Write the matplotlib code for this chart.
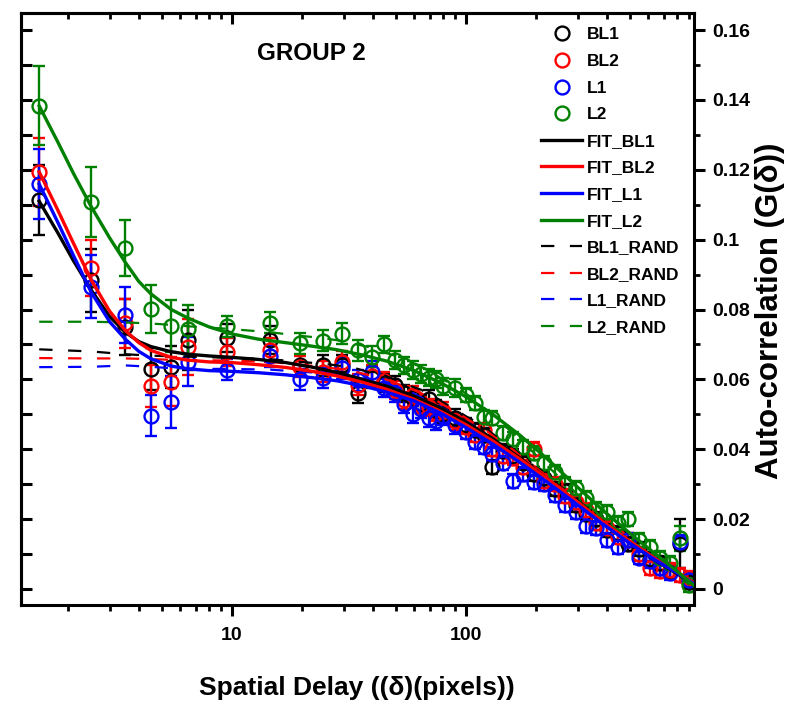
import matplotlib
matplotlib.use("Agg")
import matplotlib.pyplot as plt
from matplotlib.lines import Line2D
from matplotlib.ticker import FixedLocator, NullFormatter, FuncFormatter

plt.rcParams['font.family'] = ['Liberation Sans', 'DejaVu Sans']
plt.rcParams['font.weight'] = 'bold'

# spatial delay (pixels) of the measured points
delay = [1.5, 2.5, 3.5, 4.5, 5.5, 6.5, 9.5, 14.5, 19.5, 24.5, 29.5, 34.5, 39.5, 44.5,
         49.5, 54.5, 59.5, 64.5, 69.5, 74.5, 79.5, 89.5, 99.5, 109.5, 119.5, 129.5,
         144.5, 159.5, 174.5, 194.5, 214.5, 239.5, 264.5, 294.5, 324.5, 359.5, 399.5,
         444.5, 494.5, 549.5, 609.5, 674.5, 744.5, 819.5, 899.5]

bl1 = [0.1113, 0.0884, 0.0750, 0.0630, 0.0635, 0.0713, 0.0718, 0.0713, 0.0640, 0.0641,
       0.0640, 0.0562, 0.0605, 0.0590, 0.0585, 0.0560, 0.0548, 0.0530, 0.0545, 0.0515,
       0.0500, 0.0490, 0.0470, 0.0455, 0.0440, 0.0350, 0.0395, 0.0380, 0.0362, 0.0330,
       0.0318, 0.0285, 0.0280, 0.0240, 0.0215, 0.0200, 0.0170, 0.0160, 0.0130, 0.0115,
       0.0085, 0.0075, 0.0050, 0.0130, 0.0020]
bl2 = [0.1194, 0.0919, 0.0760, 0.0581, 0.0593, 0.0693, 0.0678, 0.0684, 0.0636, 0.0622,
       0.0651, 0.0584, 0.0610, 0.0595, 0.0570, 0.0540, 0.0555, 0.0525, 0.0520, 0.0505,
       0.0510, 0.0480, 0.0465, 0.0440, 0.0455, 0.0400, 0.0380, 0.0375, 0.0350, 0.0400,
       0.0310, 0.0300, 0.0265, 0.0250, 0.0225, 0.0190, 0.0175, 0.0150, 0.0140, 0.0100,
       0.0060, 0.0050, 0.0055, 0.0040, 0.0030]
l1 = [0.1159, 0.0865, 0.0784, 0.0496, 0.0536, 0.0651, 0.0627, 0.0666, 0.0601, 0.0604,
      0.0632, 0.0598, 0.0622, 0.0575, 0.0560, 0.0530, 0.0500, 0.0515, 0.0490, 0.0480,
      0.0495, 0.0470, 0.0450, 0.0420, 0.0405, 0.0385, 0.0360, 0.0310, 0.0330, 0.0305,
      0.0300, 0.0270, 0.0240, 0.0220, 0.0180, 0.0175, 0.0140, 0.0120, 0.0140, 0.0090,
      0.0080, 0.0060, 0.0045, 0.0135, 0.0025]
l2 = [0.1383, 0.1108, 0.0975, 0.0801, 0.0753, 0.0744, 0.0752, 0.0762, 0.0704, 0.0711,
      0.0730, 0.0684, 0.0665, 0.0700, 0.0655, 0.0640, 0.0627, 0.0615, 0.0605, 0.0600,
      0.0580, 0.0575, 0.0555, 0.0532, 0.0493, 0.0490, 0.0446, 0.0430, 0.0405, 0.0390,
      0.0360, 0.0335, 0.0300, 0.0290, 0.0260, 0.0230, 0.0220, 0.0190, 0.0200, 0.0140,
      0.0120, 0.0090, 0.0075, 0.0145, 0.0010]

bl1_err = [0.0100, 0.0090, 0.0080, 0.0060, 0.0060, 0.0085, 0.0040, 0.0040, 0.0030, 0.0030,
           0.0030, 0.0030, 0.0030, 0.0025, 0.0025, 0.0025, 0.0025, 0.0025, 0.0025, 0.0025,
           0.0025, 0.0025, 0.0020, 0.0020, 0.0020, 0.0020, 0.0020, 0.0020, 0.0020, 0.0020,
           0.0020, 0.0020, 0.0020, 0.0020, 0.0020, 0.0020, 0.0020, 0.0020, 0.0020, 0.0020,
           0.0020, 0.0020, 0.0020, 0.0070, 0.0020]
bl2_err = [0.0098, 0.0080, 0.0070, 0.0060, 0.0070, 0.0080, 0.0040, 0.0035, 0.0030, 0.0030,
           0.0030, 0.0030, 0.0030, 0.0025, 0.0025, 0.0025, 0.0025, 0.0025, 0.0025, 0.0025,
           0.0025, 0.0025, 0.0020, 0.0020, 0.0020, 0.0020, 0.0020, 0.0020, 0.0020, 0.0020,
           0.0020, 0.0020, 0.0020, 0.0020, 0.0020, 0.0020, 0.0020, 0.0020, 0.0020, 0.0020,
           0.0020, 0.0020, 0.0020, 0.0020, 0.0020]
l1_err = [0.0100, 0.0090, 0.0080, 0.0058, 0.0074, 0.0070, 0.0030, 0.0030, 0.0030, 0.0030,
          0.0030, 0.0030, 0.0030, 0.0025, 0.0025, 0.0025, 0.0025, 0.0025, 0.0025, 0.0025,
          0.0025, 0.0025, 0.0020, 0.0020, 0.0020, 0.0020, 0.0020, 0.0020, 0.0020, 0.0020,
          0.0020, 0.0020, 0.0020, 0.0020, 0.0020, 0.0020, 0.0020, 0.0020, 0.0020, 0.0020,
          0.0020, 0.0020, 0.0020, 0.0020, 0.0020]
l2_err = [0.0113, 0.0100, 0.0080, 0.0068, 0.0075, 0.0070, 0.0030, 0.0030, 0.0030, 0.0030,
          0.0030, 0.0030, 0.0030, 0.0025, 0.0025, 0.0025, 0.0025, 0.0025, 0.0025, 0.0025,
          0.0025, 0.0025, 0.0020, 0.0020, 0.0020, 0.0020, 0.0020, 0.0020, 0.0020, 0.0020,
          0.0020, 0.0020, 0.0020, 0.0020, 0.0020, 0.0020, 0.0020, 0.0020, 0.0020, 0.0020,
          0.0020, 0.0020, 0.0020, 0.0035, 0.0020]

# randomised (shuffled) references, same delays
bl1_rand = [0.0686, 0.0680, 0.0672, 0.0668, 0.0666, 0.0665, 0.0662, 0.0658, 0.0650, 0.0645,
            0.0638, 0.0630, 0.0618, 0.0612, 0.0600, 0.0590, 0.0578, 0.0570, 0.0555, 0.0548,
            0.0535, 0.0515, 0.0495, 0.0480, 0.0462, 0.0445, 0.0420, 0.0400, 0.0380, 0.0352,
            0.0335, 0.0305, 0.0285, 0.0258, 0.0235, 0.0210, 0.0185, 0.0165, 0.0140, 0.0118,
            0.0095, 0.0078, 0.0060, 0.0045, 0.0025]
bl2_rand = [0.0661, 0.0660, 0.0660, 0.0658, 0.0656, 0.0655, 0.0654, 0.0650, 0.0642, 0.0636,
            0.0628, 0.0620, 0.0610, 0.0602, 0.0592, 0.0580, 0.0570, 0.0560, 0.0548, 0.0540,
            0.0528, 0.0508, 0.0490, 0.0472, 0.0458, 0.0440, 0.0415, 0.0398, 0.0375, 0.0352,
            0.0330, 0.0302, 0.0282, 0.0255, 0.0232, 0.0205, 0.0182, 0.0160, 0.0138, 0.0112,
            0.0090, 0.0072, 0.0058, 0.0042, 0.0028]
l1_rand = [0.0635, 0.0636, 0.0640, 0.0636, 0.0632, 0.0630, 0.0630, 0.0628, 0.0622, 0.0618,
           0.0612, 0.0605, 0.0598, 0.0590, 0.0580, 0.0570, 0.0560, 0.0548, 0.0538, 0.0530,
           0.0518, 0.0498, 0.0480, 0.0465, 0.0448, 0.0430, 0.0408, 0.0388, 0.0368, 0.0342,
           0.0322, 0.0295, 0.0272, 0.0248, 0.0225, 0.0200, 0.0178, 0.0155, 0.0132, 0.0110,
           0.0088, 0.0070, 0.0055, 0.0040, 0.0022]
l2_rand = [0.0765, 0.0765, 0.0763, 0.0760, 0.0756, 0.0752, 0.0745, 0.0735, 0.0725, 0.0718,
           0.0710, 0.0700, 0.0690, 0.0678, 0.0668, 0.0655, 0.0645, 0.0635, 0.0622, 0.0612,
           0.0600, 0.0582, 0.0560, 0.0540, 0.0518, 0.0498, 0.0470, 0.0445, 0.0420, 0.0390,
           0.0362, 0.0332, 0.0305, 0.0275, 0.0248, 0.0220, 0.0192, 0.0168, 0.0145, 0.0120,
           0.0095, 0.0075, 0.0055, 0.0035, 0.0012]

# fitted curves
fit_delay = [1.5, 1.8, 2.1, 2.5, 3.0, 3.5, 4.0, 4.5, 5.5, 6.5, 8, 10, 13, 17, 22, 28, 36,
             46, 60, 78, 100, 130, 170, 220, 290, 380, 500, 650, 800, 940]
fit_bl1 = [0.1110, 0.1020, 0.0940, 0.0856, 0.0780, 0.0735, 0.0708, 0.0694, 0.0679, 0.0672,
           0.0667, 0.0663, 0.0657, 0.0648, 0.0635, 0.0620, 0.0600, 0.0580, 0.0552, 0.0518,
           0.0478, 0.0430, 0.0375, 0.0318, 0.0255, 0.0192, 0.0133, 0.0080, 0.0043, 0.0015]
fit_bl2 = [0.1194, 0.1085, 0.0990, 0.0885, 0.0795, 0.0740, 0.0705, 0.0683, 0.0663, 0.0655,
           0.0650, 0.0648, 0.0642, 0.0634, 0.0623, 0.0610, 0.0592, 0.0571, 0.0543, 0.0508,
           0.0470, 0.0424, 0.0372, 0.0318, 0.0256, 0.0195, 0.0137, 0.0085, 0.0048, 0.0018]
fit_l1 = [0.1159, 0.1050, 0.0955, 0.0850, 0.0765, 0.0715, 0.0680, 0.0659, 0.0638, 0.0630,
          0.0625, 0.0623, 0.0619, 0.0613, 0.0605, 0.0596, 0.0582, 0.0563, 0.0538, 0.0503,
          0.0462, 0.0415, 0.0362, 0.0308, 0.0248, 0.0188, 0.0131, 0.0081, 0.0045, 0.0015]
fit_l2 = [0.1383, 0.1280, 0.1190, 0.1095, 0.1005, 0.0935, 0.0880, 0.0845, 0.0800, 0.0775,
          0.0750, 0.0730, 0.0715, 0.0705, 0.0695, 0.0685, 0.0670, 0.0652, 0.0625, 0.0590,
          0.0550, 0.0500, 0.0440, 0.0375, 0.0300, 0.0228, 0.0160, 0.0098, 0.0050, 0.0010]

names = ['BL1', 'BL2', 'L1', 'L2']
colors = ['black', '#ff0000', '#0000ff', '#008000']
data = [bl1, bl2, l1, l2]
errs = [bl1_err, bl2_err, l1_err, l2_err]
rands = [bl1_rand, bl2_rand, l1_rand, l2_rand]
fits = [fit_bl1, fit_bl2, fit_l1, fit_l2]

y_ticks = [0, 0.02, 0.04, 0.06, 0.08, 0.1, 0.12, 0.14, 0.16]

fig = plt.figure(figsize=(7.93, 7.04), dpi=100)
ax = fig.add_axes([21 / 793, 1 - 605 / 704, 673 / 793, 592 / 704])

for y, e, c in zip(data, errs, colors):
    ax.errorbar(delay, y, yerr=e, fmt='o', mfc='none', mec=c, ecolor=c, ms=10,
                mew=1.7, elinewidth=1.7, capsize=4, capthick=1.7, zorder=2)
for r, c in zip(rands, colors):
    ax.plot(delay, r, color=c, lw=1.6, ls=(0, (6, 7)), zorder=3)
for f, c in zip(fits, colors):
    ax.plot(fit_delay, f, color=c, lw=2.4, zorder=4)

ax.set_xscale('log')
ax.set_xlim(1.254, 942)
ax.set_ylim(-0.0046, 0.1649)

for s in ax.spines.values():
    s.set_linewidth(2.2)

# bottom / right: outward ticks with labels
ax.xaxis.set_major_locator(FixedLocator([10, 100]))
ax.xaxis.set_minor_locator(FixedLocator([m * d for d in (1, 10, 100) for m in range(2, 10)]))
ax.xaxis.set_minor_formatter(NullFormatter())
ax.set_xticklabels(['10', '100'])
ax.yaxis.tick_right()
ax.yaxis.set_major_locator(FixedLocator(y_ticks))
ax.yaxis.set_minor_locator(FixedLocator([0.01, 0.03, 0.05, 0.07, 0.09, 0.11, 0.13, 0.15]))
ax.yaxis.set_major_formatter(FuncFormatter(lambda v, p: '%g' % v))
ax.tick_params(which='major', direction='out', length=8, width=2.2, labelsize=14)
ax.tick_params(axis='x', which='major', pad=8)
ax.tick_params(axis='y', which='major', pad=5)
ax.tick_params(which='minor', direction='out', length=4, width=2.0)
for lab in ax.get_xticklabels() + ax.get_yticklabels():
    lab.set_fontweight('bold')

# top / left: inward ticks, no labels
top = ax.secondary_xaxis('top')
top.xaxis.set_major_locator(FixedLocator([10, 100]))
top.xaxis.set_minor_locator(FixedLocator([m * d for d in (1, 10, 100) for m in range(2, 10)]))
top.tick_params(which='major', direction='in', length=8, width=2.2, labeltop=False)
top.tick_params(which='minor', direction='in', length=4, width=2.0)
top.xaxis.set_minor_formatter(NullFormatter())
top.spines['top'].set_linewidth(2.2)

left = ax.secondary_yaxis('left')
left.yaxis.set_major_locator(FixedLocator([i * 0.01 for i in range(17)]))
left.tick_params(which='major', direction='in', length=8, width=2.2, labelleft=False)
left.spines['left'].set_linewidth(2.2)

fig.text(311 / 793, 1 - 53 / 704, 'GROUP 2', fontsize=17.5, fontweight='bold',
         ha='center', va='center')
fig.text(357 / 793, 1 - 688 / 704, 'Spatial Delay ((δ)(pixels))', fontsize=19,
         fontweight='bold', ha='center', va='center')
fig.text(770 / 793, 1 - 311 / 704, 'Auto-correlation (G(δ))', fontsize=22.5,
         fontweight='bold', ha='center', va='center', rotation=90)

handles = []
labels = []
for n, c in zip(names, colors):
    handles.append(Line2D([], [], ls='none', marker='o', mfc='none', mec=c, ms=10, mew=1.7))
    labels.append(n)
for n, c in zip(names, colors):
    handles.append(Line2D([], [], color=c, lw=2.4))
    labels.append('FIT_' + n)
for n, c in zip(names, colors):
    handles.append(Line2D([], [], color=c, lw=1.6, ls=(0, (6, 7))))
    labels.append(n + '_RAND')
leg = ax.legend(handles, labels, loc='upper left', bbox_to_anchor=(0.773, 0.976),
                frameon=False, borderpad=0, borderaxespad=0, handlelength=2.36,
                handletextpad=0.25, labelspacing=0.66,
                prop={'size': 12.5, 'weight': 'bold'})

fig.savefig('out.png', dpi=100)
